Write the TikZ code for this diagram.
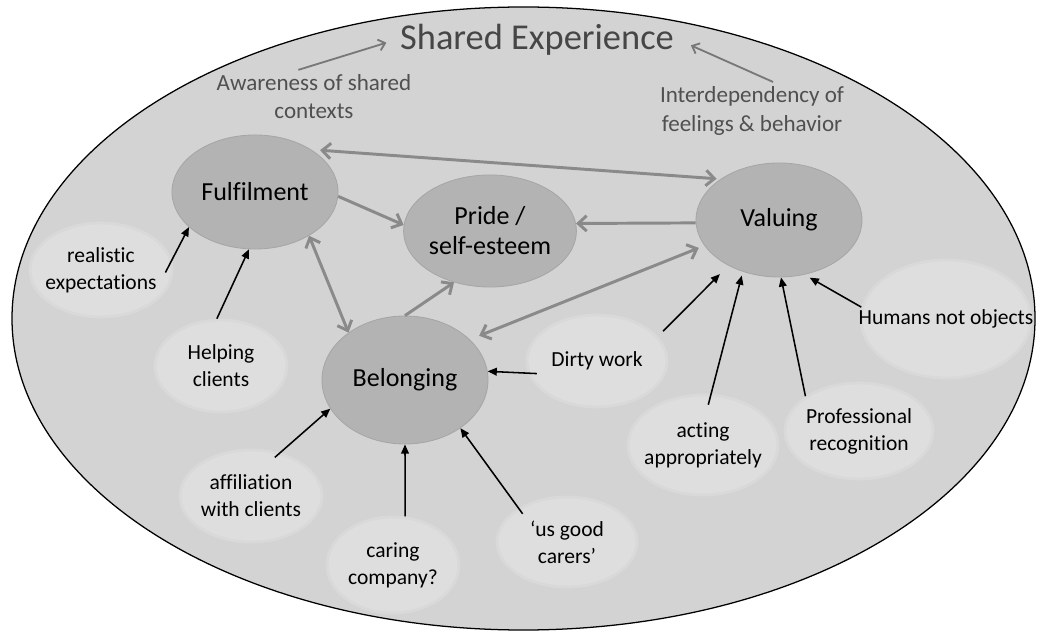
\documentclass[tikz,border=0pt]{standalone}
\usepackage{fontspec}
\setmainfont{Carlito}[Ligatures=NoCommon]
\usetikzlibrary{shapes.geometric,arrows.meta}

\begin{document}
\begin{tikzpicture}[x=0.025cm, y=-0.025cm,
    core/.style={ellipse, fill=corefill, draw=coreedge, line width=0.6pt, inner sep=0pt,
        minimum width=4.15cm, minimum height=2.85cm, align=center,
        font=\fontsize{18.5}{21.3}\selectfont},
    factor/.style={ellipse, fill=factorfill, draw=factoredge, line width=2pt, inner sep=0pt},
    factortext/.style={align=center, font=\fontsize{15.3}{19.2}\selectfont},
    note/.style={align=center, text=notegray, font=\fontsize{16.4}{20}\selectfont},
    link/.style={line width=2.1pt, draw=linkgray},
    oneway/.style={link, -{Straight Barb[length=6pt,width=11pt]}},
    twoway/.style={link, {Straight Barb[length=6pt,width=11pt]}-{Straight Barb[length=6pt,width=11pt]}},
    feed/.style={line width=1.1pt, -{Triangle[length=6.5pt,width=5.5pt]}},
    hint/.style={line width=1.3pt, draw=hintgray, -{Straight Barb[length=4.5pt,width=8pt]}}
]
    % Define colors - greys of the figure
    \definecolor{bgfill}{RGB}{211,211,211}
    \definecolor{corefill}{RGB}{179,179,179}
    \definecolor{coreedge}{RGB}{166,166,166}
    \definecolor{factorfill}{RGB}{222,222,222}
    \definecolor{factoredge}{RGB}{217,217,217}
    \definecolor{linkgray}{RGB}{138,138,138}
    \definecolor{hintgray}{RGB}{120,120,120}
    \definecolor{notegray}{RGB}{80,80,80}
    \definecolor{titlegray}{RGB}{70,70,70}

    \useasboundingbox (0,0) rectangle (1038,635);

    % Outer ellipse
    \draw[fill=bgfill, line width=0.9pt] (523.5,318.5) ellipse [x radius=511.5, y radius=311.5];

    % Title and side notes
    \node[text=titlegray, font=\fontsize{25.9}{30}\selectfont] (title) at (537,40) {Shared Experience};
    \node[note] (aware) at (314,97) {Awareness of shared\\contexts};
    \node[note] (inter) at (752,111) {Interdependency of\\feelings \& behavior};

    % Factors - light ellipses
    \node[factor, minimum width=3.55cm, minimum height=2.35cm,
        label={[factortext]center:realistic\\expectations}] (real) at (101,270) {};
    \node[factor, minimum width=3.3cm, minimum height=2.3cm,
        label={[factortext]center:Helping\\clients}] (help) at (221,366) {};
    \node[factor, minimum width=3.55cm, minimum height=2.3cm,
        label={[factortext]center:affiliation\\with clients}] (affil) at (251,496) {};
    \node[factor, minimum width=3.3cm, minimum height=2.4cm,
        label={[factortext]center:caring\\company?}] (caring) at (393,565) {};
    \node[factor, minimum width=3.5cm, minimum height=2.25cm,
        label={[factortext]center:`us good\\carers'}] (good) at (567,542) {};
    \node[factor, minimum width=3.5cm, minimum height=2.3cm,
        label={[factortext]center:Dirty work}] (dirty) at (597,361) {};
    \node[factor, minimum width=3.75cm, minimum height=2.5cm,
        label={[factortext]center:acting\\appropriately}] (acting) at (703,445) {};
    \node[factor, minimum width=3.7cm, minimum height=2.4cm,
        label={[factortext]center:Professional\\recognition}] (prof) at (859,431) {};
    \node[factor, minimum width=4.25cm, minimum height=2.95cm,
        label={[factortext]center:Humans not objects}] (humans) at (946,319) {};

    % Core feelings - darker ellipses
    \node[core] (fulf) at (255,192) {Fulfilment};
    \node[core, minimum height=2.8cm] (pride) at (490,231) {Pride /\\self-esteem};
    \node[core] (val) at (779,220) {Valuing};
    \node[core, minimum height=3.2cm] (belong) at (405,380) {Belonging};

    % Grey links between core feelings
    \draw[twoway, shorten <=0.22cm, shorten >=0.1cm] (fulf.37) -- (val.145);
    \draw[oneway] (fulf.357) -- (pride.176);
    \draw[oneway] (val.182) -- (pride.5);
    \draw[oneway] (belong.90) -- (pride.235);
    \draw[twoway] (fulf.321) -- (belong.140);
    \draw[twoway, shorten <=0.15cm, shorten >=0.25cm] (val.199) -- (belong.32);

    % Black arrows from factors
    \draw[feed, shorten <=-0.35cm] (real.8) -- (fulf.208);
    \draw[feed] (help.95) -- (fulf.264);
    \draw[feed, shorten <=-0.18cm] (affil.56) -- (belong.201);
    \draw[feed] (caring.76) -- (belong.270);
    \draw[feed, shorten <=-0.18cm] (good.145) -- (belong.319);
    \draw[feed, shorten <=-0.22cm] (dirty.190) -- (belong.6);
    \draw[feed, shorten <=0.18cm, shorten >=0.3cm] (dirty.22) -- (val.222);
    \draw[feed, shorten <=-0.28cm, shorten >=0.1cm] (acting.81) -- (val.235);
    \draw[feed] (prof.147) -- (val.272);
    \draw[feed, shorten >=0.15cm] (humans.172) -- (val.295);

    % Arrows up to the title
    \draw[hint, shorten >=0.23cm] (aware.120) -- (title.west);
    \draw[hint, shorten >=0.33cm] (inter.54) -- (title.east);
\end{tikzpicture}
\end{document}
